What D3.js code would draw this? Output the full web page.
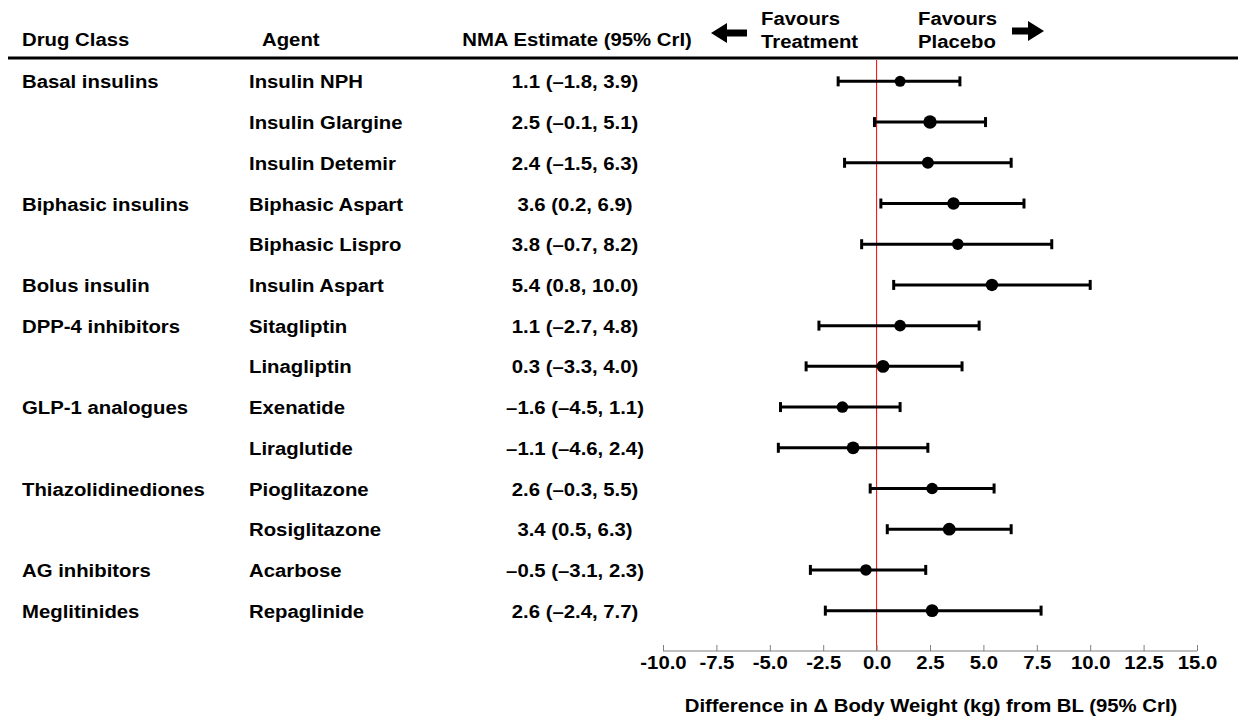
<html>
<head>
<meta charset="utf-8">
<title>Body weight NMA forest plot</title>
<script src="https://d3js.org/d3.v7.min.js"></script>
<style>
body { margin: 0; background: #fff; }
svg text {
    font-family: "Liberation Sans", Arial, sans-serif;
    font-weight: bold;
    font-size: 18px;
    fill: #000;
}
.axis path { display: none; }
.axis line { stroke: #808080; }
</style>
</head>
<body>
<div id="vis_container"></div>
<script>

// data
var drugClasses = ["Basal insulins", "", "", "Biphasic insulins", "", "Bolus insulin",
    "DPP-4 inhibitors", "", "GLP-1 analogues", "", "Thiazolidinediones", "",
    "AG inhibitors", "Meglitinides"];
var agents = ["Insulin NPH", "Insulin Glargine", "Insulin Detemir", "Biphasic Aspart",
    "Biphasic Lispro", "Insulin Aspart", "Sitagliptin", "Linagliptin", "Exenatide",
    "Liraglutide", "Pioglitazone", "Rosiglitazone", "Acarbose", "Repaglinide"];
var estimate = [1.1, 2.5, 2.4, 3.6, 3.8, 5.4, 1.1, 0.3, -1.6, -1.1, 2.6, 3.4, -0.5, 2.6];
var lower = [-1.8, -0.1, -1.5, 0.2, -0.7, 0.8, -2.7, -3.3, -4.5, -4.6, -0.3, 0.5, -3.1, -2.4];
var upper = [3.9, 5.1, 6.3, 6.9, 8.2, 10.0, 4.8, 4.0, 1.1, 2.4, 5.5, 6.3, 2.3, 7.7];
var xTicks = [-10, -7.5, -5, -2.5, 0, 2.5, 5, 7.5, 10, 12.5, 15];

// marker radius per row (drawing style)
var dotR = [5.5, 6.7, 6, 6.2, 5.8, 6.2, 5.8, 6.4, 5.8, 6.4, 5.8, 6.4, 5.8, 6.4];

var width = 1238, height = 721;
var sx = 1.13; // text in the source is stretched horizontally

var svg = d3.select("#vis_container").append("svg")
    .attr("width", width)
    .attr("height", height);

var rows = d3.range(agents.length);

var x = d3.scaleLinear().domain([-10, 15]).range([663, 1197]);
var y = d3.scaleBand().domain(rows).range([61, 631]);

var fmt = function(v) { return d3.format(".1f")(v).replace(/[-\u2212]/, "\u2013"); };
var tickFmt = function(v) { return d3.format(".1f")(v).replace(/\u2212/, "-"); };

function addText(g, tx, ty, str, anchor) {
    return g.append("text")
        .attr("transform", "translate(" + tx + "," + ty + ") scale(" + sx + ",1)")
        .style("text-anchor", anchor || "start")
        .text(str);
}

// header
addText(svg, 22, 46, "Drug Class");
addText(svg, 262, 46, "Agent");
addText(svg, 577, 46, "NMA Estimate (95% CrI)", "middle");
addText(svg, 761, 25, "Favours");
addText(svg, 761, 48, "Treatment");
addText(svg, 918, 25, "Favours");
addText(svg, 918, 48, "Placebo");

// arrows
svg.append("path")
    .attr("d", "M711,33 L727,23 L727,29.5 L747,29.5 L747,36.5 L727,36.5 L727,43 Z")
    .attr("fill", "#000");
svg.append("path")
    .attr("d", "M1044,31 L1028,21 L1028,27.5 L1012,27.5 L1012,34.5 L1028,34.5 L1028,41 Z")
    .attr("fill", "#000");

svg.append("line")
    .attr("x1", 8).attr("x2", width)
    .attr("y1", 58).attr("y2", 58)
    .attr("stroke", "#000")
    .attr("stroke-width", 3);

// row labels
rows.forEach(function(i) {
    var cy = y(i) + y.bandwidth() / 2 + 7;
    if (drugClasses[i]) addText(svg, 22, cy, drugClasses[i]);
    addText(svg, 249, cy, agents[i]);
    addText(svg, 575, cy, fmt(estimate[i]) + " (" + fmt(lower[i]) + ", " + fmt(upper[i]) + ")", "middle");
});

// zero line
svg.append("line")
    .attr("x1", x(0)).attr("x2", x(0))
    .attr("y1", 60).attr("y2", 651)
    .attr("stroke", "#ff0000")
    .attr("stroke-width", 1);

// axis
var axis = svg.append("g")
    .attr("class", "axis")
    .attr("transform", "translate(0,651)")
    .call(d3.axisBottom(x).tickValues(xTicks).tickFormat(tickFmt)
        .tickSizeInner(-6).tickSizeOuter(0).tickPadding(5));
axis.selectAll("text")
    .attr("transform", "scale(" + sx + ",1)")
    .style("font-size", "18px")
    .style("font-family", "'Liberation Sans', Arial, sans-serif");
svg.append("line")
    .attr("x1", x(-10)).attr("x2", x(15))
    .attr("y1", 651).attr("y2", 651)
    .attr("stroke", "#808080");

addText(svg, 931, 712, "Difference in \u0394 Body Weight (kg) from BL (95% CrI)", "middle");

// error bars
var bars = svg.selectAll("g.bar")
    .data(rows)
    .enter()
    .append("g")
    .attr("class", "bar")
    .attr("transform", function(i) { return "translate(0," + (y(i) + y.bandwidth() / 2) + ")"; });

bars.append("line")
    .attr("x1", function(i) { return x(lower[i]); })
    .attr("x2", function(i) { return x(upper[i]); })
    .attr("stroke", "#000")
    .attr("stroke-width", 3);

bars.selectAll("line.cap")
    .data(function(i) { return [lower[i], upper[i]]; })
    .enter()
    .append("line")
    .attr("class", "cap")
    .attr("x1", function(v) { return x(v); })
    .attr("x2", function(v) { return x(v); })
    .attr("y1", -5).attr("y2", 5)
    .attr("stroke", "#000")
    .attr("stroke-width", 3);

bars.append("circle")
    .attr("cx", function(i) { return x(estimate[i]); })
    .attr("r", function(i) { return dotR[i]; })
    .attr("fill", "#000");

</script>
</body>
</html>
